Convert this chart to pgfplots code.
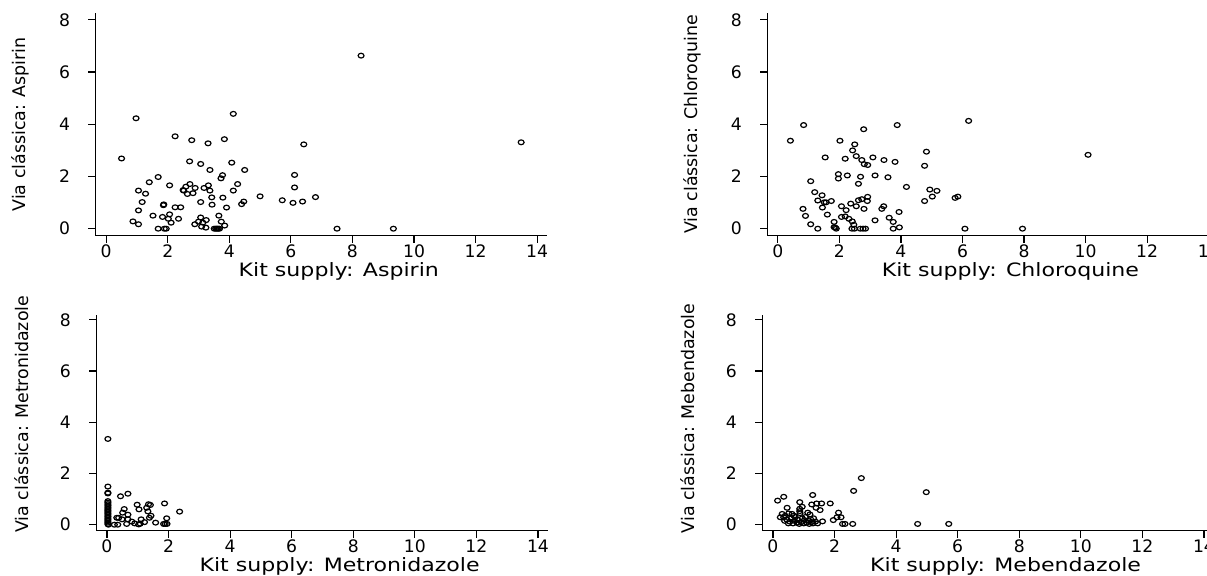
\documentclass[border=0pt]{standalone}
\usepackage{fontspec}
\setmainfont{DejaVu Sans}
\usepackage{pgfplots}
\usepackage{pgfplotstable}
\pgfplotsset{compat=1.18}

\pgfplotstableread{
x y
0.50 2.69
0.87 0.28
0.97 4.23
1.05 1.46
1.05 0.70
1.05 0.17
1.17 1.02
1.28 1.34
1.40 1.78
1.52 0.50
1.69 1.98
1.69 0
1.83 0.45
1.86 0.90
1.87 0.93
1.89 0
1.95 0
2.02 0.38
2.06 1.66
2.06 0.55
2.11 0.23
2.24 3.54
2.24 0.82
2.35 0.38
2.42 0.82
2.50 1.48
2.52 1.46
2.59 1.61
2.64 1.33
2.71 2.58
2.72 1.71
2.78 3.39
2.82 1.36
2.88 0.17
2.89 1.56
3.00 0.27
3.07 2.48
3.07 1.02
3.07 0.43
3.10 0.08
3.14 0.23
3.18 1.56
3.24 0.04
3.25 0.33
3.31 3.27
3.32 1.66
3.37 2.25
3.37 1.46
3.43 1.20
3.44 0.92
3.51 0
3.56 0
3.60 0
3.64 0
3.68 0
3.66 0.50
3.73 1.93
3.74 0.27
3.78 2.05
3.79 1.19
3.84 3.43
3.85 0.12
3.91 0.81
4.08 2.53
4.13 4.40
4.13 1.46
4.27 1.71
4.40 0.94
4.47 1.04
4.50 2.25
5.00 1.24
5.72 1.09
6.07 0.99
6.38 1.04
6.80 1.21
6.12 2.06
6.12 1.58
6.42 3.23
7.50 0
8.28 6.63
9.33 0
13.48 3.31
}\aspirin

\pgfplotstableread{
x y
0.84 3.97
0.41 3.37
2.79 3.81
3.88 3.97
6.20 4.13
2.02 3.37
2.50 3.23
2.43 3.00
2.55 2.78
2.73 2.63
2.81 2.47
2.92 2.44
3.09 2.73
3.45 2.63
3.81 2.56
1.54 2.73
2.19 2.68
4.83 2.95
4.77 2.41
1.97 2.09
1.97 1.92
2.26 2.04
2.69 1.99
3.16 2.04
3.58 1.97
2.62 1.72
1.07 1.82
4.18 1.60
4.94 1.50
5.17 1.45
5.02 1.23
4.77 1.06
5.76 1.18
5.85 1.23
1.20 1.40
1.44 1.28
1.30 1.08
1.45 0.81
1.57 1.01
1.74 1.06
1.51 1.01
0.82 0.76
0.90 0.49
1.07 0.17
1.30 0
1.61 0.54
1.83 0.26
1.83 0.06
1.87 0.04
1.90 0
2.07 0.86
2.22 0.71
2.07 0.45
2.19 0.47
2.31 0.38
2.37 0.96
2.42 0.28
2.47 0.15
2.41 0
2.49 0
2.55 0.86
2.62 1.09
2.73 1.13
2.80 0.76
2.92 1.22
2.91 1.06
2.68 0
2.77 0
2.85 0
3.16 0.32
3.38 0.76
3.44 0.86
3.62 0.42
3.75 0.26
3.94 0.64
3.75 0
3.95 0.05
6.08 0
7.95 0
10.08 2.83
}\chloroquine

\pgfplotstableread{
x y
0.03 3.35
0.03 1.49
0.03 1.25
0.03 1.22
0.03 0.92
0.03 0.86
0.03 0.80
0.03 0.74
0.03 0.68
0.03 0.62
0.03 0.56
0.03 0.50
0.03 0.44
0.03 0.38
0.03 0.32
0.03 0.26
0.03 0.20
0.03 0.14
0.03 0.08
0.03 0.02
0.05 0.00
0.44 1.11
0.68 1.21
0.98 0.78
1.04 0.60
1.29 0.66
1.35 0.80
1.41 0.77
1.33 0.52
1.43 0.35
1.38 0.27
1.87 0.83
2.36 0.51
1.94 0.25
1.58 0.08
1.84 0.03
1.89 0.03
1.95 0.03
0.56 0.61
0.51 0.47
0.68 0.39
0.38 0.27
0.32 0.27
0.49 0.21
0.68 0.21
0.81 0.12
0.90 0.05
1.03 0.01
0.64 0.03
0.24 0.00
0.35 0.00
1.11 0.21
1.22 0.10
1.08 0.04
}\metronidazole

\pgfplotstableread{
x y
0.15 0.94
0.35 1.09
0.46 0.66
1.29 1.16
0.87 0.88
0.87 0.62
0.87 0.53
1.26 0.79
1.42 0.83
1.58 0.83
1.86 0.83
1.40 0.66
1.53 0.57
1.13 0.47
0.51 0.44
0.30 0.42
0.35 0.29
0.24 0.29
2.62 1.32
2.87 1.82
4.98 1.27
4.70 0.03
5.71 0.03
2.59 0.03
2.13 0.47
2.08 0.29
2.21 0.29
1.96 0.18
2.26 0.03
2.34 0.03
1.61 0.13
0.45 0.20
0.55 0.12
0.60 0.25
0.65 0.05
0.70 0.15
0.72 0.30
0.78 0.08
0.80 0.20
0.85 0.03
0.92 0.10
0.95 0.25
1.00 0.05
1.02 0.18
1.05 0.30
1.10 0.08
1.15 0.15
1.18 0.03
1.22 0.22
1.25 0.10
1.30 0.05
1.32 0.25
1.38 0.12
1.45 0.05
0.62 0.42
0.68 0.35
0.40 0.35
0.38 0.15
0.50 0.05
0.88 0.45
1.20 0.40
0.95 0.70
}\mebendazole

\pgfplotsset{
  panel/.style={
    scale only axis, width=225.5pt,
    xmin=-0.34, xmax=14.31,
    axis lines=left, axis line style={-, line width=0.65pt, black},
    xtick={0,2,...,14}, ytick={0,2,4,6,8},
    tick align=outside, major tick length=3.6pt,
    tick style={black, line width=0.6pt},
    /pgf/number format/assume math mode=true,
    tick label style={font=\fontsize{8.6}{9}\selectfont, inner sep=0pt},
    yticklabel style={xshift=-9pt},
    xticklabel style={yshift=-0.9pt},
    every axis x label/.style={at={(axis description cs:0.539,0)}, anchor=base, yshift=-20.5pt, xscale=1.2, font=\fontsize{9.2}{10}\selectfont},
    every axis y label/.style={at={(axis description cs:-0.1663,0.5)}, rotate=90, anchor=center, font=\fontsize{8.7}{10}\selectfont},
  },
  toprow/.style={height=111.2pt, ymin=-0.268, ymax=8.253},
  botrow/.style={height=107.85pt, ymin=-0.234, ymax=8.19},
  pts/.style={only marks, mark=o, black, mark size=1.2pt, mark options={xscale=1.23, line width=0.6pt}},
}

\begin{document}
\begin{tikzpicture}
\useasboundingbox (0,0) rectangle (603.5pt,288pt);
\clip (0,0) rectangle (603.5pt,288pt);
\begin{axis}[panel, toprow, at={(47.85pt,170.15pt)}, anchor=south west,
  xlabel={Kit supply: Aspirin}, ylabel={Via clássica: Aspirin}]
\addplot[pts] table {\aspirin};
\end{axis}
\begin{axis}[panel, toprow, at={(383.65pt,170.15pt)}, anchor=south west,
  xlabel={Kit supply: Chloroquine}, ylabel={Via clássica: Chloroquine}]
\addplot[pts] table {\chloroquine};
\end{axis}
\begin{axis}[panel, botrow, at={(48.25pt,22.65pt)}, anchor=south west,
  xlabel={Kit supply: Metronidazole}, ylabel={Via clássica: Metronidazole},
  every axis y label/.append style={at={(axis description cs:-0.1663,0.54)}}]
\addplot[pts] table {\metronidazole};
\end{axis}
\begin{axis}[panel, botrow, at={(381.25pt,22.65pt)}, anchor=south west,
  xlabel={Kit supply: Mebendazole}, ylabel={Via clássica: Mebendazole},
  every axis y label/.append style={at={(axis description cs:-0.1663,0.52)}}]
\addplot[pts] table {\mebendazole};
\end{axis}
\end{tikzpicture}
\end{document}
